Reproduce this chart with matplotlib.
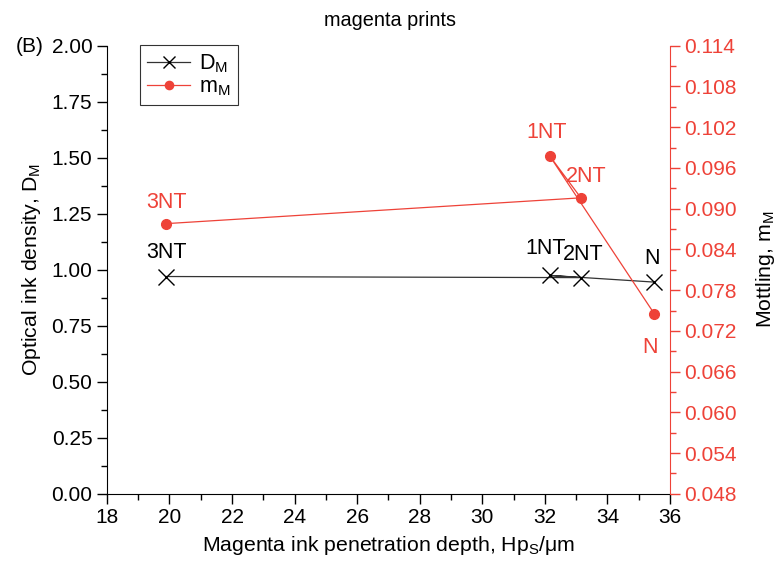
import matplotlib
matplotlib.use('Agg')
import matplotlib.pyplot as plt
from matplotlib.ticker import MultipleLocator, AutoMinorLocator

plt.rcParams['font.family'] = ['Liberation Sans', 'DejaVu Sans']
plt.rcParams['mathtext.fontset'] = 'custom'
plt.rcParams['mathtext.rm'] = 'Liberation Sans'
plt.rcParams['mathtext.it'] = 'Liberation Sans'

red = '#EE4238'

# samples, in drawing order
samples = ['3NT', '2NT', '1NT', 'N']
depth = [19.9, 33.15, 32.15, 35.5]
density = [0.97, 0.965, 0.975, 0.945]
mottling = [0.0878, 0.0916, 0.0978, 0.0745]

fig = plt.figure(figsize=(7.8, 5.65), dpi=100)
ax = fig.add_axes([0.137, 0.126, 0.722, 0.793])
ax2 = ax.twinx()

l1, = ax.plot(depth, density, color='#333333', lw=0.9, marker='x', ms=11,
              mec='black', mew=1.0, label='D$_\\mathrm{M}$')
l2, = ax2.plot(depth, mottling, color=red, lw=0.9, marker='o', ms=7,
               mec=red, mfc=red, label='m$_\\mathrm{M}$')

# point labels
black_off = {'3NT': (0, 17), '2NT': (2, 17), '1NT': (-3, 19), 'N': (-2, 17)}
red_off = {'3NT': (0, 15), '2NT': (4, 15), '1NT': (-2, 17), 'N': (-3, -24)}
for s, x, y in zip(samples, depth, density):
    ax.annotate(s, (x, y), xytext=black_off[s], textcoords='offset points',
                ha='center', va='center', fontsize=15.5, color='black')
for s, x, y in zip(samples, depth, mottling):
    ax2.annotate(s, (x, y), xytext=red_off[s], textcoords='offset points',
                 ha='center', va='center', fontsize=15.5, color=red)

ax.set_xlim(18, 36)
ax.set_ylim(0, 2.0)
ax2.set_ylim(0.048, 0.114)

ax.xaxis.set_major_locator(MultipleLocator(2))
ax.xaxis.set_minor_locator(AutoMinorLocator(2))
ax.yaxis.set_major_locator(MultipleLocator(0.25))
ax.yaxis.set_minor_locator(AutoMinorLocator(2))
ax2.yaxis.set_major_locator(MultipleLocator(0.006))
ax2.yaxis.set_minor_locator(AutoMinorLocator(2))
ax2.yaxis.set_major_formatter(matplotlib.ticker.FormatStrFormatter('%.3f'))
ax.yaxis.set_major_formatter(matplotlib.ticker.FormatStrFormatter('%.2f'))

for a in (ax, ax2):
    a.spines['top'].set_visible(False)
ax2.spines['left'].set_visible(False)
ax2.spines['bottom'].set_visible(False)
ax.spines['right'].set_visible(False)
ax2.spines['right'].set_color(red)

ax.tick_params(which='major', direction='out', length=7, width=1, labelsize=15)
ax.tick_params(which='minor', direction='out', length=4, width=1)
ax2.tick_params(which='major', direction='out', length=7, width=1, labelsize=15,
                colors=red)
ax2.tick_params(which='minor', direction='out', length=4, width=1, colors=red)

ax.set_xlabel('Magenta ink penetration depth, Hp$_\\mathrm{S}$/μm', fontsize=15.3, labelpad=5)
ax.set_ylabel('Optical ink density, D$_\\mathrm{M}$', fontsize=15.3, labelpad=6)
ax2.set_ylabel('Mottling, m$_\\mathrm{M}$', fontsize=15.3, labelpad=12, color='black')

fig.text(0.5, 0.963, 'magenta prints', ha='center', va='center', fontsize=14.3)
fig.text(0.038, 0.918, '(B)', ha='center', va='center', fontsize=15)

leg = ax2.legend(handles=[l1, l2], loc='upper left', bbox_to_anchor=(0.058, 1.002),
                 borderaxespad=0, fontsize=15.5, frameon=True, fancybox=False,
                 edgecolor='black', markerscale=0.85,
                 handlelength=2.0, handletextpad=0.4, borderpad=0.35, labelspacing=0.05)
leg.get_frame().set_linewidth(0.8)

fig.savefig('out.png', dpi=100)
